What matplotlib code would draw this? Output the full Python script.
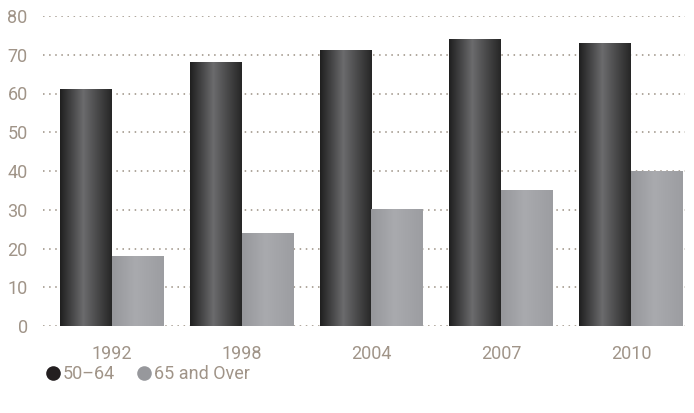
import numpy as np
import matplotlib
matplotlib.use('Agg')
import matplotlib.pyplot as plt
from matplotlib.colors import LinearSegmentedColormap
from matplotlib.lines import Line2D

years = ['1992', '1998', '2004', '2007', '2010']
age_50_64 = [61, 68, 71, 74, 73]
age_65_over = [18, 24, 30, 35, 40]

plt.rcParams['font.family'] = ['Roboto', 'DejaVu Sans']
text_color = '#a09488'

dark_cmap = LinearSegmentedColormap.from_list(
    'dark', [(0, '#1f1f1f'), (0.45, '#6b6b6d'), (1, '#262626')])
gray_cmap = LinearSegmentedColormap.from_list(
    'gray', [(0, '#96979b'), (0.45, '#a9aaae'), (1, '#9c9da1')])

fig = plt.figure(figsize=(6.94, 4.13), dpi=100)
ax = fig.add_axes([43 / 694, 87 / 413, 642 / 694, 310 / 413])

x = np.arange(len(years))
w = 0.4
bars1 = ax.bar(x - w / 2, age_50_64, w, color='none', zorder=3)
bars2 = ax.bar(x + w / 2, age_65_over, w, color='none', zorder=3)

grad = np.linspace(0, 1, 256).reshape(1, -1)
for bars, cmap in [(bars1, dark_cmap), (bars2, gray_cmap)]:
    for b in bars:
        x0, h = b.get_x(), b.get_height()
        ax.imshow(grad, cmap=cmap, aspect='auto', zorder=3,
                  extent=(x0, x0 + b.get_width(), 0, h))

ax.set_xlim(-0.53, 4.415)
ax.set_ylim(0, 80)
ax.set_yticks(range(0, 81, 10))
ax.set_xticks(x)
ax.set_xticklabels(years)
ax.yaxis.grid(True, color='#9a8f82', linestyle=(0, (1, 3)), linewidth=1.1, zorder=0)
ax.set_axisbelow(True)
for s in ax.spines.values():
    s.set_visible(False)
ax.tick_params(axis='both', length=0, labelsize=13, labelcolor=text_color)
ax.tick_params(axis='x', pad=14)
ax.tick_params(axis='y', pad=11)

handles = [
    Line2D([], [], marker='o', linestyle='none', markersize=10.5,
           markerfacecolor='#231f20', markeredgecolor='none', label='50–64'),
    Line2D([], [], marker='o', linestyle='none', markersize=10.5,
           markerfacecolor='#97989c', markeredgecolor='none', label='65 and Over'),
]
leg = fig.legend(handles=handles, loc='center left', bbox_to_anchor=(44 / 694, 1 - 374 / 413),
                 ncol=2, frameon=False, fontsize=13, handletextpad=0.05,
                 columnspacing=1.1, handlelength=1.0, borderaxespad=0, borderpad=0)
for t in leg.get_texts():
    t.set_color(text_color)

fig.savefig('out.png', dpi=100)
